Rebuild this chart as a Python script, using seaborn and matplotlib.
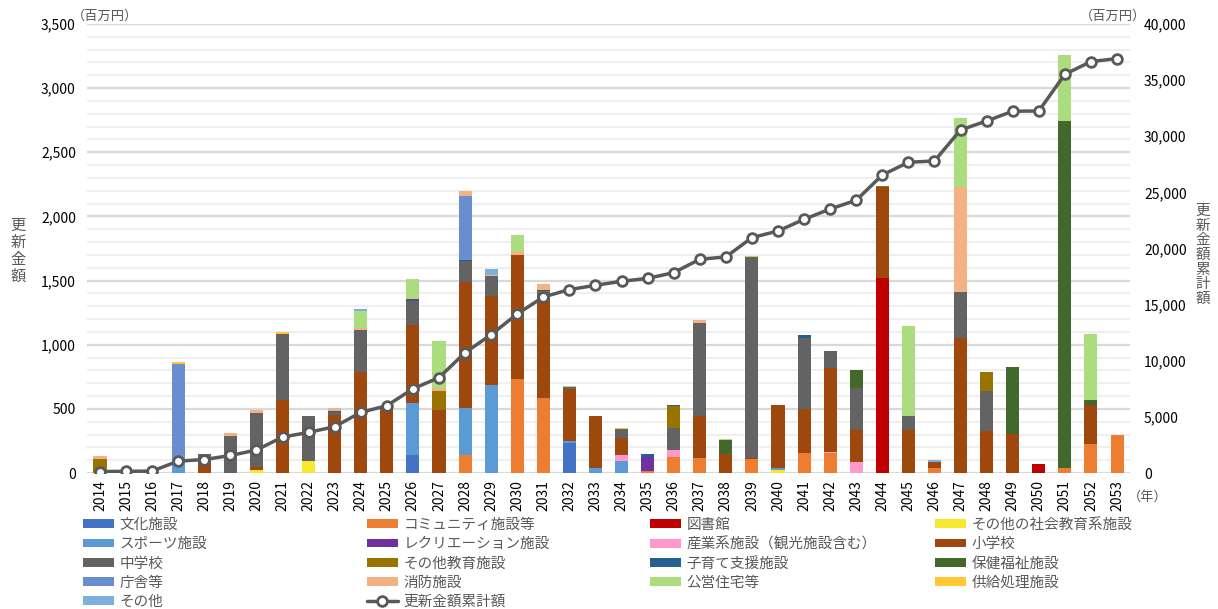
import numpy as np
import pandas as pd
import matplotlib
matplotlib.use("Agg")
import matplotlib.pyplot as plt
from matplotlib.patches import Patch
from matplotlib.lines import Line2D
from matplotlib.ticker import FuncFormatter, MultipleLocator
import seaborn as sns

# Years on the x axis
years = list(range(2014, 2054))

# Renewal cost per facility type (million yen), only non-zero years listed
bunka = {2026: 143, 2032: 234}
community = {2028: 143, 2030: 731, 2031: 588, 2035: 13, 2036: 125, 2037: 117, 2039: 109,
             2041: 156, 2042: 156, 2046: 36, 2051: 42, 2052: 224, 2053: 294}
library = {2044: 1521, 2050: 68}
social_edu = {2020: 21, 2022: 91, 2040: 21}
sports = {2017: 95, 2026: 399, 2028: 361, 2029: 684, 2032: 13, 2033: 42, 2034: 91, 2040: 16}
recreation = {2035: 112}
industry = {2034: 47, 2036: 52, 2042: 8, 2043: 83}
elementary = {2016: 10, 2018: 70, 2020: 26, 2021: 572, 2023: 455, 2024: 788, 2025: 511,
              2026: 613, 2027: 495, 2028: 985, 2029: 697, 2030: 970, 2031: 811, 2032: 406,
              2033: 403, 2034: 135, 2037: 328, 2038: 151, 2039: 10, 2040: 491, 2041: 343,
              2042: 658, 2043: 255, 2044: 710, 2045: 333, 2046: 52, 2047: 1056, 2048: 328,
              2049: 307, 2052: 304}
junior_high = {2018: 80, 2019: 289, 2020: 424, 2021: 515, 2022: 356, 2023: 18, 2024: 325,
               2026: 183, 2028: 164, 2029: 153, 2031: 13, 2032: 16, 2034: 68, 2036: 174,
               2037: 728, 2039: 1565, 2041: 556, 2042: 130, 2043: 328, 2045: 112, 2047: 356,
               2048: 312}
other_edu = {2014: 107, 2027: 146, 2031: 8, 2036: 172, 2044: 8, 2048: 148}
childcare = {2023: 10, 2026: 16, 2028: 8, 2031: 10, 2035: 21, 2036: 8, 2041: 18}
welfare = {2038: 104, 2043: 140, 2049: 520, 2051: 2704, 2052: 44}
government = {2017: 754, 2028: 497}
fire = {2014: 23, 2019: 21, 2020: 23, 2023: 26, 2024: 18, 2026: 13, 2027: 18, 2028: 39,
        2029: 13, 2030: 18, 2031: 47, 2037: 21, 2047: 819}
housing = {2024: 130, 2026: 146, 2027: 367, 2030: 140, 2032: 10, 2038: 8, 2039: 10,
           2045: 699, 2047: 538, 2051: 512, 2052: 515}
supply = {2015: 20, 2016: 8, 2017: 15, 2021: 10, 2034: 8}
others = {2024: 21, 2029: 44, 2046: 10}

# Cumulative renewal cost (right axis)
cumulative = [130, 150, 170, 1060, 1200, 1560, 2050, 3200, 3620, 4130, 5400, 6000, 7500,
              8500, 10720, 12330, 14170, 15680, 16340, 16720, 17080, 17340, 17850, 19040,
              19250, 20970, 21560, 22600, 23520, 24300, 26550, 27680, 27800, 30560, 31360,
              32230, 32250, 35520, 36650, 36920]

categories = ["文化施設", "コミュニティ施設等", "図書館", "その他の社会教育系施設",
              "スポーツ施設", "レクリエーション施設", "産業系施設（観光施設含む）", "小学校",
              "中学校", "その他教育施設", "子育て支援施設", "保健福祉施設",
              "庁舎等", "消防施設", "公営住宅等", "供給処理施設", "その他"]
series = [bunka, community, library, social_edu, sports, recreation, industry, elementary,
          junior_high, other_edu, childcare, welfare, government, fire, housing, supply, others]
colors = ["#4472C4", "#ED7D31", "#C00000", "#F5E82E", "#5B9BD5", "#7030A0", "#FF99CC",
          "#9E480E", "#636363", "#997300", "#255E91", "#43682B", "#698ED0", "#F4B183",
          "#ABDC7D", "#FFC832", "#7CAFDD"]

df = pd.DataFrame({c: [s.get(y, 0) for y in years] for c, s in zip(categories, series)},
                  index=years)

sns.set_theme(style="white")
plt.rcParams["font.family"] = ["Noto Sans CJK JP", "DejaVu Sans"]
text_color = "#595959"

fig = plt.figure(figsize=(12.18, 6.09), dpi=100)
ax = fig.add_axes([0.0714, 0.2233, 0.8564, 0.7373])

x = np.arange(len(years))
bottom = np.zeros(len(years))
for cat, col in zip(categories, colors):
    vals = df[cat].values
    ax.bar(x, vals, bottom=bottom, width=0.5, color=col, linewidth=0, zorder=2)
    bottom += vals

ax.set_ylim(0, 3500)
ax.yaxis.set_major_locator(MultipleLocator(500))
ax.yaxis.set_minor_locator(MultipleLocator(100))
ax.grid(which="major", axis="y", color="#D9D9D9", linewidth=1.6, zorder=0)
ax.grid(which="minor", axis="y", color="#EFEFEF", linewidth=1.5, zorder=0)
ax.set_axisbelow(True)
ax.yaxis.set_major_formatter(FuncFormatter(lambda v, p: f"{int(v):,}"))
for s in ax.spines.values():
    s.set_visible(False)

ax2 = ax.twinx()
sns.lineplot(x=x, y=cumulative, ax=ax2, color=text_color, linewidth=2.5, marker="o",
             markersize=7, markerfacecolor="white", markeredgecolor=text_color,
             markeredgewidth=2, legend=False, zorder=5)
ax2.set_ylim(0, 40000)
ax2.yaxis.set_major_locator(MultipleLocator(5000))
ax2.yaxis.set_major_formatter(FuncFormatter(lambda v, p: f"{int(v):,}"))
ax2.grid(False)
for s in ax2.spines.values():
    s.set_visible(False)

ax.set_xlim(-0.5, len(years) - 0.5)
ax.set_xticks(x)
ax.set_xticklabels([str(y) for y in years], rotation=90)
ax.tick_params(axis="x", length=0, pad=5, labelsize=10, colors="black")
ax.tick_params(axis="y", which="both", length=0, pad=8, labelsize=10, colors="black")
ax2.tick_params(axis="y", which="both", length=0, pad=10, labelsize=10, colors="black")
ax.set_xlabel("")
ax2.set_xlabel("")
ax2.set_ylabel("")

fig.text(105 / 1218, 1 - 16 / 609, "（百万円）", ha="center", va="center", fontsize=9.5, color=text_color)
fig.text(1113 / 1218, 1 - 16 / 609, "（百万円）", ha="center", va="center", fontsize=9.5, color=text_color)
fig.text(1148 / 1218, 1 - 497 / 609, "（年）", ha="center", va="center", fontsize=9.5, color=text_color)
fig.text(18 / 1218, 1 - 251 / 609, "\n".join("更新金額"), ha="center", va="center",
         fontsize=11, color=text_color, linespacing=1.0)
fig.text(1203 / 1218, 1 - 255 / 609, "\n".join("更新金額累計額"), ha="center", va="center",
         fontsize=10.5, color=text_color, linespacing=1.05)

# Legend: 4 columns laid out row by row like the original
handles = [Patch(facecolor=c, edgecolor="none") for c in colors]
handles.append(Line2D([0], [0], color=text_color, linewidth=2.5, marker="o", markersize=7,
                      markerfacecolor="white", markeredgecolor=text_color, markeredgewidth=2))
labels = categories + ["更新金額累計額"]
col_x = [83, 367, 650, 935]
for c in range(4):
    idx = list(range(c, len(labels), 4))
    fig.legend([handles[i] for i in idx], [labels[i] for i in idx], loc="upper left",
               bbox_to_anchor=(col_x[c] / 1218, 1 - 518 / 609), frameon=False,
               fontsize=10.5, handlelength=2.1, handleheight=0.55, handletextpad=0.4,
               labelspacing=0.36, borderpad=0, borderaxespad=0, labelcolor=text_color)

fig.savefig("out.png", dpi=100)
